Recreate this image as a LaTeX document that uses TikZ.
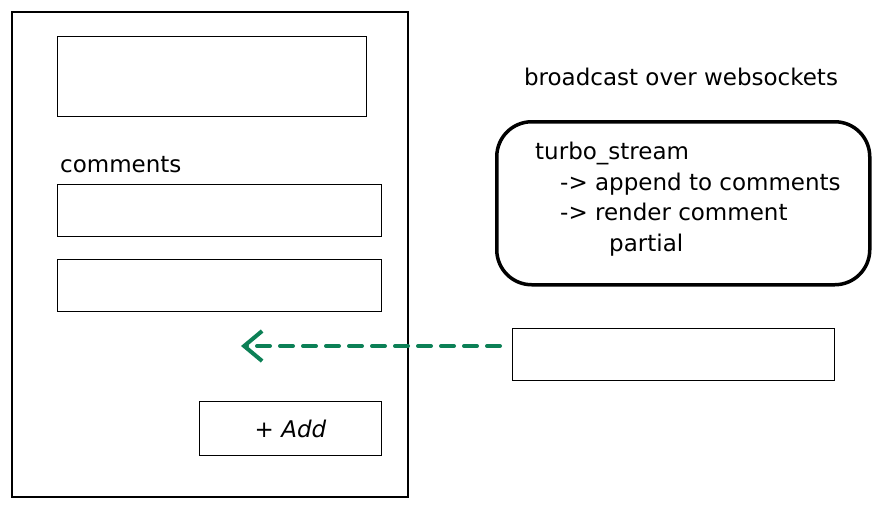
\documentclass[tikz,border=0pt]{standalone}
\usepackage{fontspec}
\setmainfont{DejaVu Sans}
\usetikzlibrary{arrows.meta,positioning}
\definecolor{streamgreen}{RGB}{12,128,86}

\begin{document}
\begin{tikzpicture}[x = 1pt, y = -1pt,
  sketch/.style = {draw = black, line width = 1.1pt},
  hand/.style = {font = \fontsize{23}{30.5}\selectfont, inner sep = 0pt},
  push/.style = {draw = streamgreen, line width = 4pt, line cap = round, dash pattern = on 13pt off 10pt, -{Straight Barb[length = 18pt, width = 30pt, line width = 4pt]}}]
\useasboundingbox (0,0) rectangle (880,509);
% page on the left
\draw[sketch] (12,12) rectangle (408,497);
\node[sketch, minimum width = 309, minimum height = 80, anchor = north west] (header) at (57,36) {};
\node[hand, anchor = base west] (commentslabel) at (60,172) {comments};
\node[sketch, minimum width = 324, minimum height = 52, anchor = north west] (commentA) at (57,184) {};
\node[sketch, minimum width = 324, minimum height = 52, anchor = north west] (commentB) at (57,259) {};
\node[sketch, minimum width = 182, minimum height = 54, anchor = north west] (addbtn) at (199,401) {};
\node[hand] (addlabel) at (addbtn.center) {+ \textit{Add}};
% right side
\node[hand] (broadcast) at (681,77) {broadcast over websockets};
\node[draw = black, line width = 3.5pt, rounded corners = 35pt, minimum width = 373, minimum height = 163, anchor = north west] (stream) at (495,120) {};
\node[hand, align = left, anchor = north west] (streamtext) at (535,142) {turbo\_stream\\\hspace*{25pt}-> append to comments\\\hspace*{25pt}-> render comment\\\hspace*{74pt}partial};
\node[sketch, minimum width = 322, minimum height = 52, anchor = north west] (newcomment) at (512,328) {};
\coordinate (launch) at (500,346);
\coordinate (drop) at (241,346);
\draw[push] (launch) -- (drop);
\end{tikzpicture}
\end{document}
